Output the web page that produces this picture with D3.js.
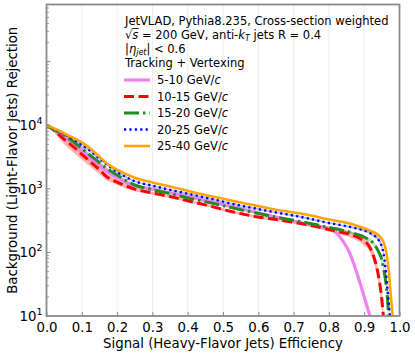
<!DOCTYPE html>
<html><head><meta charset="utf-8">
<script src="https://cdn.jsdelivr.net/npm/d3@7"></script>
<style>
html,body{margin:0;padding:0;background:#fff;}
text{font-family:"DejaVu Sans",sans-serif;fill:#000;}
</style></head>
<body><svg id="c" width="415" height="353"></svg>
<script>
// ---- data ----
const efficiency = [0,0.02,0.05,0.08,0.1,0.12,0.15,0.17,0.2,0.25,0.3,0.35,0.4,0.45,0.5,0.55,0.6,0.65,0.7,0.75,0.8,0.82,0.84,0.86,0.88,0.9,0.91,0.92,0.93,0.94,0.95,0.955,0.96,0.965,0.97,0.975,0.98,0.985,0.99];
const rej_5_10  = [10000,8600,6800,5000,4000,3200,2400,1900,1500,1120,990,870,760,660,570,490,420,360,310,270,237,205,150,95,46,20,13,8.5,5,null,null,null,null,null,null,null,null,null,null];
const rej_10_15 = [10000,8500,6000,4400,3500,2800,2000,1560,1280,990,860,757,650,560,472,408,360,330,298,265,230,218,205,192,175,150,135,108,76,44,18,9,5,null,null,null,null,null,null];
const rej_15_20 = [10000,8700,7000,5300,4300,3500,2600,2100,1650,1150,970,840,720,630,545,470,410,360,320,283,248,236,222,208,192,175,163,150,130,105,76,55,38,22,9,5,null,null,null];
const rej_20_25 = [10000,8900,7300,5900,4900,4100,3000,2450,1850,1320,1120,965,840,730,630,545,480,425,380,335,290,278,265,252,238,222,212,198,182,160,123,95,58,30,15,8,5,null,null];
const rej_25_40 = [10000,9000,7500,6200,5400,4500,3200,2550,2000,1500,1260,1090,930,800,700,610,535,470,425,380,330,315,300,285,262,240,228,215,205,188,162,143,118,82,48,22,11,6,4];
// relative uncertainty (band half-width)
const err_5_10  = [0,0.08,0.14,0.16,0.16,0.15,0.12,0.1,0.08,0.05,0.04,0.03,0.03,0.03,0.03,0.03,0.03,0.03,0.03,0.03,0.04,0.05,0.06,0.07,0.08,0.1,0.12,0.14,0.15,0,0,0,0,0,0,0,0,0,0];
const err_10_15 = [0,0.08,0.16,0.18,0.18,0.17,0.15,0.12,0.1,0.07,0.05,0.05,0.05,0.05,0.05,0.05,0.05,0.05,0.05,0.06,0.07,0.08,0.09,0.1,0.12,0.14,0.15,0.17,0.2,0.22,0.25,0.25,0.25,0,0,0,0,0,0];
const err_15_20 = [0,0.03,0.05,0.06,0.06,0.06,0.05,0.05,0.04,0.03,0.03,0.03,0.03,0.03,0.03,0.03,0.03,0.03,0.03,0.03,0.03,0.03,0.04,0.04,0.05,0.05,0.06,0.07,0.08,0.1,0.12,0.12,0.12,0.12,0.12,0.12,0,0,0];
const err_20_25 = [0,0.03,0.04,0.05,0.05,0.05,0.05,0.04,0.04,0.03,0.03,0.03,0.03,0.03,0.03,0.03,0.03,0.03,0.03,0.03,0.03,0.03,0.03,0.04,0.04,0.05,0.05,0.06,0.06,0.07,0.08,0.1,0.1,0.1,0.1,0.1,0.1,0,0];
const err_25_40 = [0,0.02,0.03,0.04,0.04,0.04,0.04,0.03,0.03,0.02,0.02,0.02,0.02,0.02,0.02,0.02,0.02,0.02,0.02,0.02,0.02,0.02,0.03,0.03,0.03,0.03,0.04,0.04,0.04,0.05,0.06,0.07,0.08,0.08,0.08,0.08,0.08,0.08,0.08];
const seriesLabels = ["5-10 GeV/","10-15 GeV/","15-20 GeV/","20-25 GeV/","25-40 GeV/"];
const xTicks = [0,0.1,0.2,0.3,0.4,0.5,0.6,0.7,0.8,0.9,1.0];
const yTickExp = [1,2,3,4];
const headerLines = ["JetVLAD, Pythia8.235, Cross-section weighted","√s = 200 GeV, anti-k_T jets R = 0.4","|η_jet| < 0.6","Tracking + Vertexing"];

const series = [
  {v:rej_5_10,  e:err_5_10,  color:"#EE82EE", w:3.2, dash:null},
  {v:rej_10_15, e:err_10_15, color:"#FF0000", w:3,   dash:"10,4.5"},
  {v:rej_15_20, e:err_15_20, color:"#228B22", w:3,   dash:"15,4,2.5,4"},
  {v:rej_20_25, e:err_20_25, color:"#0000FF", w:2.4, dash:"2.2,3.2"},
  {v:rej_25_40, e:err_25_40, color:"#FFA500", w:2.6, dash:null}
];

const svg = d3.select("#c");
const L=46.5, R=399.5, T=4.5, B=316;
const x = d3.scaleLinear().domain([0,1]).range([L,R]);
const y = d3.scaleLog().domain([10, Math.pow(10,5.9)]).range([B,T]);

svg.append("defs").append("clipPath").attr("id","clip")
  .append("rect").attr("x",L).attr("y",T).attr("width",R-L).attr("height",B-T);

// grid
svg.append("g").selectAll("line").data(xTicks).join("line")
  .attr("x1",d=>x(d)).attr("x2",d=>x(d)).attr("y1",T).attr("y2",B)
  .attr("stroke","#b0b0b0").attr("stroke-opacity",0.3).attr("stroke-width",0.8);

const plot = svg.append("g").attr("clip-path","url(#clip)");
series.forEach(s=>{
  const pts = efficiency.map((ex,i)=>({x:ex,v:s.v[i],e:s.e[i]})).filter(p=>p.v!=null);
  const area = d3.area().x(p=>x(p.x)).y0(p=>y(Math.max(1,p.v*(1-p.e)))).y1(p=>y(p.v*(1+p.e))).curve(d3.curveMonotoneX);
  plot.append("path").attr("d",area(pts)).attr("fill",s.color).attr("fill-opacity",0.3).attr("stroke","none");
});
series.forEach(s=>{
  const pts = efficiency.map((ex,i)=>({x:ex,v:s.v[i]})).filter(p=>p.v!=null);
  const line = d3.line().x(p=>x(p.x)).y(p=>y(p.v)).curve(d3.curveMonotoneX);
  plot.append("path").attr("d",line(pts)).attr("fill","none").attr("stroke",s.color)
    .attr("stroke-width",s.w).attr("stroke-dasharray",s.dash);
});

// axes
const axisColor="#8a8a8a";
const xAxis = d3.axisBottom(x).tickValues(xTicks).tickFormat(d3.format(".1f")).tickSizeInner(-4).tickSizeOuter(0).tickPadding(7);
const gx = svg.append("g").attr("transform",`translate(0,${B})`).call(xAxis);
gx.select(".domain").remove();
gx.selectAll("line").attr("stroke",axisColor);
gx.selectAll("text").attr("font-size","13.3px").attr("fill","#000").attr("font-family","DejaVu Sans");

const minor=[];
for(let k=1;k<=5;k++) for(let m=2;m<=9;m++){ const v=m*Math.pow(10,k); if(v<=Math.pow(10,5.9)) minor.push(v); }
svg.append("g").selectAll("line").data(minor).join("line")
  .attr("x1",L).attr("x2",L+2.5).attr("y1",d=>y(d)).attr("y2",d=>y(d)).attr("stroke",axisColor).attr("stroke-width",0.8);
const majors=[10,100,1000,10000,100000];
svg.append("g").selectAll("line").data(majors).join("line")
  .attr("x1",L).attr("x2",L+4).attr("y1",d=>y(d)).attr("y2",d=>y(d)).attr("stroke",axisColor).attr("stroke-width",1);
const yl = svg.append("g").selectAll("text").data(yTickExp).join("text")
  .attr("x",L-4).attr("y",d=>y(Math.pow(10,d))+5).attr("text-anchor","end").attr("font-size","13.3px");
yl.append("tspan").text("10");
yl.append("tspan").attr("font-size","9.5px").attr("dy",-6).text(d=>d);

// spines
svg.append("rect").attr("x",L).attr("y",T).attr("width",R-L).attr("height",B-T)
  .attr("fill","none").attr("stroke",axisColor).attr("stroke-width",1.8);

// axis labels
svg.append("text").attr("x",(L+R)/2).attr("y",348).attr("text-anchor","middle").attr("font-size","13.3px")
  .text("Signal (Heavy-Flavor Jets) Efficiency");
svg.append("text").attr("transform",`translate(16.5,${(T+B)/2}) rotate(-90)`).attr("text-anchor","middle").attr("font-size","13.3px")
  .text("Background (Light-Flavor Jets) Rejection");

// header text
const hx=125, hb=[24.5,38.5,52.5,66.5], fs="11.5px";
svg.append("text").attr("x",hx).attr("y",hb[0]).attr("font-size",fs).text(headerLines[0]);
const t2 = svg.append("text").attr("x",hx).attr("y",hb[1]).attr("font-size",fs);
t2.append("tspan").text("√");
t2.append("tspan").attr("font-style","italic").text("s");
t2.append("tspan").text(" = 200 GeV, anti-");
t2.append("tspan").attr("font-style","italic").text("k");
t2.append("tspan").attr("font-style","italic").attr("font-size","8px").attr("dy",2.5).text("T");
t2.append("tspan").attr("dy",-2.5).text(" jets R = 0.4");
const ext = t2.node().getExtentOfChar(1);
svg.append("line").attr("x1",ext.x-0.5).attr("x2",ext.x+ext.width+0.5).attr("y1",hb[1]-10).attr("y2",hb[1]-10)
  .attr("stroke","#000").attr("stroke-width",0.8);
const t3 = svg.append("text").attr("x",hx).attr("y",hb[2]).attr("font-size",fs);
t3.append("tspan").text("|");
t3.append("tspan").attr("font-style","italic").text("η");
t3.append("tspan").attr("font-style","italic").attr("font-size","8px").attr("dy",2.5).text("jet");
t3.append("tspan").attr("dy",-2.5).text("| < 0.6");
svg.append("text").attr("x",hx).attr("y",hb[3]).attr("font-size",fs).text(headerLines[3]);

// legend
const ly=[80,96.5,113,129.5,146];
series.forEach((s,i)=>{
  svg.append("line").attr("x1",124).attr("x2",150).attr("y1",ly[i]).attr("y2",ly[i])
    .attr("stroke",s.color).attr("stroke-width",s.w).attr("stroke-dasharray",s.dash);
  const t = svg.append("text").attr("x",157).attr("y",ly[i]+4).attr("font-size",fs);
  t.append("tspan").text(seriesLabels[i]);
  t.append("tspan").attr("font-style","italic").text("c");
});
</script></body></html>
